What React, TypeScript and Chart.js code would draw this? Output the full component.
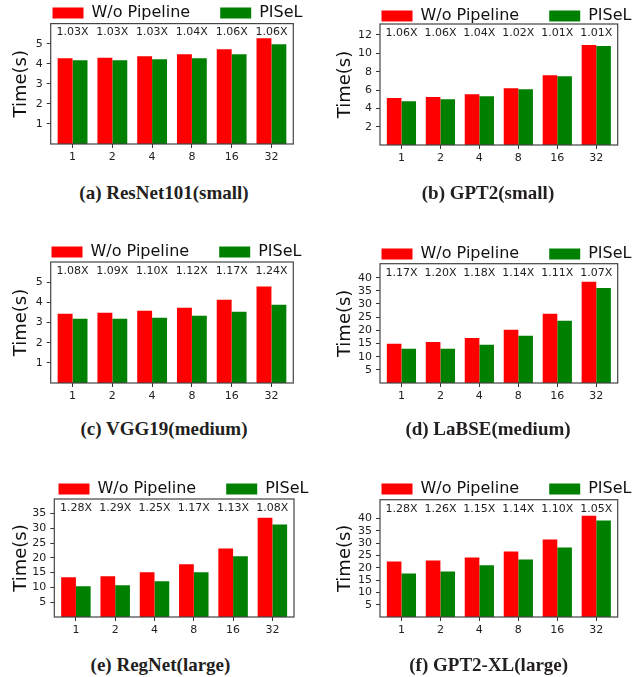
import React, { useEffect, useRef } from 'react';
import { Chart, registerables } from 'chart.js';

Chart.register(...registerables);
Chart.defaults.font.family = "'DejaVu Sans', sans-serif";

// ---------- data ----------
const categories = ['1', '2', '4', '8', '16', '32'];
const seriesNames = ['W/o Pipeline', 'PISeL'];

const resnetWo = [4.27, 4.3, 4.37, 4.47, 4.72, 5.27];
const resnetPisel = [4.17, 4.17, 4.22, 4.27, 4.47, 4.97];
const resnetRatio = ['1.03X', '1.03X', '1.03X', '1.04X', '1.06X', '1.06X'];
const resnetTicks = [1, 2, 3, 4, 5];

const gpt2Wo = [5.14, 5.25, 5.54, 6.2, 7.62, 10.9];
const gpt2Pisel = [4.78, 5.0, 5.32, 6.09, 7.51, 10.8];
const gpt2Ratio = ['1.06X', '1.06X', '1.04X', '1.02X', '1.01X', '1.01X'];
const gpt2Ticks = [2, 4, 6, 8, 10, 12];

const vggWo = [3.43, 3.48, 3.58, 3.73, 4.13, 4.78];
const vggPisel = [3.18, 3.18, 3.23, 3.33, 3.53, 3.88];
const vggRatio = ['1.08X', '1.09X', '1.10X', '1.12X', '1.17X', '1.24X'];
const vggTicks = [1, 2, 3, 4, 5];

const labseWo = [14.9, 15.6, 17.1, 20.2, 26.3, 38.4];
const labsePisel = [13.0, 13.0, 14.5, 17.9, 23.6, 36.1];
const labseRatio = ['1.17X', '1.20X', '1.18X', '1.14X', '1.11X', '1.07X'];
const labseTicks = [5, 10, 15, 20, 25, 30, 35, 40];

const regnetWo = [13.4, 13.75, 15.1, 17.8, 23.2, 33.6];
const regnetPisel = [10.4, 10.7, 12.07, 15.1, 20.5, 31.3];
const regnetRatio = ['1.28X', '1.29X', '1.25X', '1.17X', '1.13X', '1.08X'];
const regnetTicks = [5, 10, 15, 20, 25, 30, 35];

const gpt2xlWo = [22.6, 23.0, 24.2, 26.6, 31.5, 41.2];
const gpt2xlPisel = [17.7, 18.5, 21.0, 23.4, 28.3, 39.2];
const gpt2xlRatio = ['1.28X', '1.26X', '1.15X', '1.14X', '1.10X', '1.05X'];
const gpt2xlTicks = [5, 10, 15, 20, 25, 30, 35, 40];

const RED = '#ff0000';
const GREEN = '#008000';

// ---------- layout specs ----------
type Spec = {
  caption: string; wo: number[]; pisel: number[]; ratios: string[]; yMax: number; yTicks: number[];
  col: number; L: number; T: number; R: number; B: number; titleCX: number; legBox: number; legY: number;
  capX: number; capY: number;
};

const specs: Spec[] = [
  { caption: '(a) ResNet101(small)', wo: resnetWo, pisel: resnetPisel, ratios: resnetRatio, yMax: 6.0, yTicks: resnetTicks,
    col: 0, L: 50.7, T: 23.3, R: 293.3, B: 144, titleCX: 21.7, legBox: 52.3, legY: 12.7, capX: 164, capY: 193 },
  { caption: '(b) GPT2(small)', wo: gpt2Wo, pisel: gpt2Pisel, ratios: gpt2Ratio, yMax: 13.2, yTicks: gpt2Ticks,
    col: 1, L: 380, T: 24, R: 617.7, B: 144.5, titleCX: 345.7, legBox: 381.7, legY: 16, capX: 488, capY: 193 },
  { caption: '(c) VGG19(medium)', wo: vggWo, pisel: vggPisel, ratios: vggRatio, yMax: 6.0, yTicks: vggTicks,
    col: 0, L: 50.7, T: 261.7, R: 293.3, B: 382.3, titleCX: 21.7, legBox: 51.7, legY: 251.7, capX: 164, capY: 429 },
  { caption: '(d) LaBSE(medium)', wo: labseWo, pisel: labsePisel, ratios: labseRatio, yMax: 45.3, yTicks: labseTicks,
    col: 1, L: 380, T: 264, R: 617.7, B: 383.3, titleCX: 345.7, legBox: 381.7, legY: 254.3, capX: 488, capY: 429 },
  { caption: '(e) RegNet(large)', wo: regnetWo, pisel: regnetPisel, ratios: regnetRatio, yMax: 39.9, yTicks: regnetTicks,
    col: 0, L: 54.3, T: 499.3, R: 294, B: 617.3, titleCX: 21.7, legBox: 58.3, legY: 489.3, capX: 160.5, capY: 665 },
  { caption: '(f) GPT2-XL(large)', wo: gpt2xlWo, pisel: gpt2xlPisel, ratios: gpt2xlRatio, yMax: 47.7, yTicks: gpt2xlTicks,
    col: 1, L: 380, T: 500, R: 617.7, B: 617.3, titleCX: 345.7, legBox: 381.7, legY: 489.3, capX: 488.7, capY: 665 },
];

const LEG_PAD = 30;
const LEG_FONT = 16;
const LEG_ROW = 250; // estimated legend row width
const X_AXIS_H = 26;
const TITLE_FONT = 18;

function geometry(s: Spec) {
  const cl = s.col === 0 ? 0 : 316;
  const center = s.legBox + LEG_ROW / 2;
  const W = Math.round(2 * (center - cl));
  const ct = s.legY - (LEG_PAD + LEG_FONT / 2);
  const H = Math.round(s.B + X_AXIS_H - ct);
  return { cl, ct, W, H, yW: s.L - cl, rW: cl + W - s.R, legH: s.T - ct };
}

const framePlugin = {
  id: 'frame',
  afterDatasetsDraw(chart: any) {
    const { ctx, chartArea } = chart;
    ctx.save();
    ctx.strokeStyle = '#444';
    ctx.lineWidth = 1.2;
    ctx.strokeRect(chartArea.left, chartArea.top, chartArea.right - chartArea.left, chartArea.bottom - chartArea.top);
    ctx.restore();
  },
};

const ratioPlugin = {
  id: 'ratios',
  afterDatasetsDraw(chart: any, _args: any, opts: any) {
    const { ctx, chartArea, scales } = chart;
    const labels: string[] = opts.labels || [];
    ctx.save();
    ctx.font = "11px 'DejaVu Sans'";
    ctx.fillStyle = '#222';
    ctx.textAlign = 'center';
    ctx.textBaseline = 'middle';
    labels.forEach((t, i) => ctx.fillText(t, scales.x.getPixelForValue(i), chartArea.top + 9));
    ctx.restore();
  },
};

function Panel({ s }: { s: Spec }) {
  const ref = useRef<HTMLCanvasElement>(null);
  const g = geometry(s);
  useEffect(() => {
    const chart = new Chart(ref.current as HTMLCanvasElement, {
      type: 'bar',
      data: {
        datasets: [
          { label: seriesNames[0], data: s.wo.map((v, i) => ({ x: i, y: v })), backgroundColor: RED, borderWidth: 0,
            barPercentage: 1, categoryPercentage: 0.75 },
          { label: seriesNames[1], data: s.pisel.map((v, i) => ({ x: i, y: v })), backgroundColor: GREEN, borderWidth: 0,
            barPercentage: 1, categoryPercentage: 0.75 },
        ],
      },
      options: {
        animation: false,
        responsive: false,
        maintainAspectRatio: false,
        devicePixelRatio: 1,
        events: [],
        layout: { padding: 0 },
        scales: {
          x: {
            type: 'linear',
            min: -0.55,
            max: 5.55,
            offset: false,
            afterBuildTicks: (sc: any) => { sc.ticks = categories.map((_, i) => ({ value: i })); },
            afterFit: (sc: any) => { sc.height = X_AXIS_H; },
            ticks: {
              callback: (v: any) => categories[Math.round(Number(v))],
              font: { size: 11 }, color: '#222', padding: 3, maxRotation: 0, autoSkip: false,
            },
            grid: { display: true, offset: false, drawOnChartArea: false, drawTicks: true, tickLength: 4, color: '#333' },
            border: { display: false },
          },
          y: {
            type: 'linear',
            min: 0,
            max: s.yMax,
            afterBuildTicks: (sc: any) => { sc.ticks = s.yTicks.map((v) => ({ value: v })); },
            afterFit: (sc: any) => { sc.width = g.yW; },
            ticks: { font: { size: 11 }, color: '#222', padding: 4 },
            grid: { display: true, drawOnChartArea: false, drawTicks: true, tickLength: 4, color: '#333' },
            border: { display: false },
            title: { display: true, text: 'Time(s)', font: { size: TITLE_FONT }, color: '#111',
              padding: { top: s.titleCX - g.cl - TITLE_FONT * 0.6, bottom: 0 } },
          },
          yRight: {
            type: 'linear',
            position: 'right',
            display: true,
            afterFit: (sc: any) => { sc.width = g.rW; },
            ticks: { display: false },
            grid: { display: false },
            border: { display: false },
          },
        },
        plugins: {
          legend: {
            display: true,
            position: 'top',
            align: 'center',
            fullSize: true,
            maxHeight: g.legH,
            labels: { boxWidth: 31, boxHeight: 11, padding: LEG_PAD, font: { size: LEG_FONT }, color: '#111' },
          },
          tooltip: { enabled: false },
          ratios: { labels: s.ratios },
        } as any,
      },
      plugins: [framePlugin, ratioPlugin],
    } as any);
    return () => chart.destroy();
  }, []);
  return (
    <canvas
      ref={ref}
      width={g.W}
      height={g.H}
      style={{ position: 'absolute', left: g.cl, top: g.ct, width: g.W, height: g.H }}
    />
  );
}

export default function App() {
  return (
    <div style={{ position: 'absolute', left: 0, top: 0, width: 633, height: 677, overflow: 'hidden', background: '#fff' }}>
      {specs.map((s) => (
        <Panel key={s.caption} s={s} />
      ))}
      {specs.map((s) => (
        <div
          key={'cap' + s.caption}
          style={{
            position: 'absolute', left: s.capX - 150, top: s.capY - 12, width: 300, height: 24, lineHeight: '24px',
            textAlign: 'center', fontFamily: "'Liberation Serif', serif", fontWeight: 'bold', fontSize: 19, color: '#231f20',
            whiteSpace: 'nowrap',
          }}
        >
          {s.caption}
        </div>
      ))}
    </div>
  );
}
